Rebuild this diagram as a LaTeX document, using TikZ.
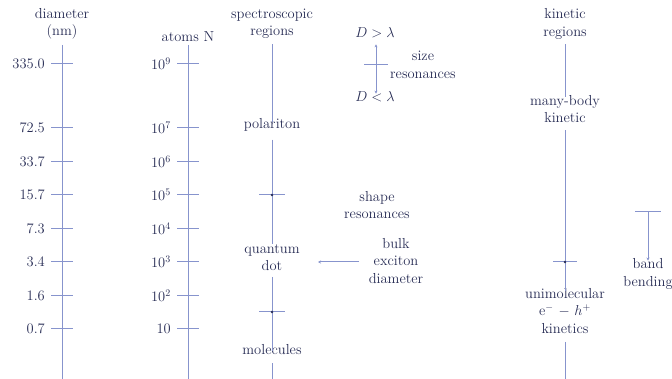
\documentclass[tikz,border=0pt]{standalone}
\usetikzlibrary{arrows.meta}
\definecolor{ln}{RGB}{135,148,205}
\definecolor{tx}{RGB}{40,45,85}
\begin{document}
\begin{tikzpicture}[x=1pt,y=-1pt,
  lbl/.style={text=tx,font=\fontsize{14.5}{17.5}\selectfont,align=center,inner sep=2pt},
  axl/.style={draw=ln,line width=1pt},
  arr/.style={draw=ln,line width=1pt,-{Stealth[length=3pt,width=3pt]}},
  dot/.style={circle,fill=tx,inner sep=0pt,minimum size=2.6pt}]
\useasboundingbox (0,0) rectangle (672,379);
% column headers
\node[lbl] (dia) at (62,24) {diameter\\(nm)};
\node[lbl] (atm) at (188,37) {atoms N};
\node[lbl] (spec) at (272,24) {spectroscopic\\regions};
\node[lbl] (kin) at (565,24) {kinetic\\regions};
% axes
\coordinate (dtop) at (62,45); \coordinate (dbot) at (62,379);
\coordinate (atop) at (188,45); \coordinate (abot) at (188,379);
\draw[axl] (dtop) -- (dbot);
\draw[axl] (atop) -- (abot);
\foreach \y/\d/\n in {64/335.0/10$^9$,128/72.5/10$^7$,162/33.7/10$^6$,195/15.7/10$^5$,229/7.3/10$^4$,262/3.4/10$^3$,296/1.6/10$^2$,329/0.7/10}{
  \draw[axl] (51,\y) -- (73,\y);
  \node[lbl,anchor=east] at (47,\y) {\d};
  \draw[axl] (177,\y) -- (199,\y);
  \node[lbl,anchor=east] at (173,\y) {\n};
}
% spectroscopic column
\node[lbl] (pol) at (272,125) {polariton};
\node[lbl] (qd) at (272,257.5) {quantum\\dot};
\node[lbl] (mol) at (272,350) {molecules};
\coordinate (sbot) at (272,379);
\draw[axl] (spec.south) ++(0,3) -- ([yshift=-6]pol.north);
\draw[axl] (pol.south) ++(0,6) -- ([yshift=-2]qd.north);
\draw[axl] (qd.south) ++(0,4) -- ([yshift=-8]mol.north);
\draw[axl] (mol.south) ++(0,6) -- (sbot);
\coordinate (t1) at (272,195); \coordinate (t2) at (272,312);
\draw[axl] ([xshift=-13]t1) -- ([xshift=13]t1);
\draw[axl] ([xshift=-13]t2) -- ([xshift=13]t2);
\node[dot] at (t1) {}; \node[dot] at (t2) {};
% size resonances
\node[lbl] (dg) at (375,33) {$D>\lambda$};
\node[lbl] (dl) at (375,97) {$D<\lambda$};
\node[lbl] (size) at (423,65) {size\\resonances};
\coordinate (sr) at (376,65);
\draw[draw=ln,line width=1pt,{Stealth[length=3pt,width=3pt]}-{Stealth[length=3pt,width=3pt]}] ([xshift=1]dg.south) ++(0,4) -- ([xshift=1,yshift=-4]dl.north);
\draw[axl] ([xshift=-12]sr) -- ([xshift=12]sr);
% shape resonances, bulk exciton diameter
\node[lbl] (shape) at (377,205) {shape\\resonances};
\node[lbl] (bulk) at (396,261) {bulk\\exciton\\diameter};
\coordinate (be) at (359,262); \coordinate (qe) at (318,262);
\draw[arr] (be) -- (qe);
% kinetic column
\node[lbl] (mb) at (565,109) {many-body\\kinetic};
\node[lbl] (uni) at (565,311) {unimolecular\\e$^-$ $-$ $h^+$\\kinetics};
\coordinate (kbot) at (565,379);
\draw[axl] (kin.south) ++(0,3) -- ([yshift=-4]mb.north);
\draw[axl] (mb.south) ++(0,5) -- ([yshift=-5]uni.north);
\draw[axl] (uni.south) ++(0,6) -- (kbot);
\coordinate (t3) at (565,262);
\draw[axl] ([xshift=-12]t3) -- ([xshift=12]t3);
\node[dot] at (t3) {};
% band bending
\node[lbl] (bb) at (648,274) {band\\bending};
\coordinate (bt) at (648,212);
\draw[axl] ([xshift=-13]bt) -- ([xshift=13]bt);
\draw[arr] (bt) -- ([yshift=-4]bb.north);
\end{tikzpicture}
\end{document}
